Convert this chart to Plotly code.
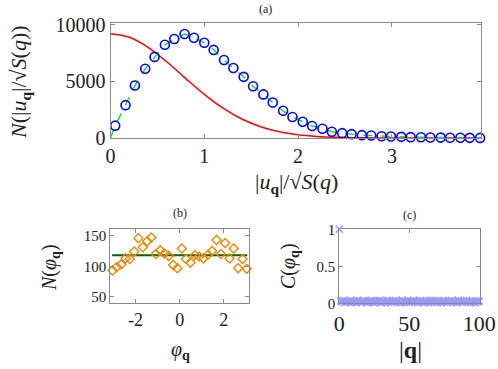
import plotly.graph_objects as go

# panel (a): histogram of |u_q|/sqrt(S(q))
hist_x = [0.05, 0.16, 0.26, 0.37, 0.47, 0.58, 0.68, 0.79, 0.89, 1.00,
          1.10, 1.21, 1.31, 1.42, 1.52, 1.63, 1.73, 1.84, 1.94, 2.05,
          2.15, 2.26, 2.36, 2.47, 2.57, 2.68, 2.78, 2.89, 2.99, 3.10,
          3.20, 3.31, 3.41, 3.52, 3.62, 3.73, 3.83, 3.94]
hist_n = [1090, 2900, 4630, 6110, 7160, 8230, 8740, 9180, 8850, 8410,
          7780, 6890, 6180, 5400, 4570, 3850, 3140, 2400, 1860, 1440,
          1060, 820, 550, 430, 340, 250, 220, 160, 130, 100,
          75, 60, 45, 35, 25, 20, 15, 10]
gauss_x = [0, 0.2, 0.4, 0.6, 0.8, 1.0, 1.2, 1.4, 1.6, 1.8, 2.0, 2.2, 2.4,
           2.6, 2.8, 3.0, 3.5, 3.95]
gauss_n = [9200, 8890, 8010, 6730, 5270, 3850, 2630, 1675, 995, 550, 284,
           137, 61, 26, 10, 4, 0, 0]

# panel (b): histogram of phase
phi_x = [-3.04, -2.85, -2.65, -2.45, -2.26, -2.06, -1.87, -1.67, -1.47, -1.28,
         -1.08, -0.88, -0.69, -0.49, -0.29, -0.10, 0.10, 0.29, 0.49, 0.69,
         0.88, 1.08, 1.28, 1.47, 1.67, 1.87, 2.06, 2.26, 2.45, 2.65, 2.85, 3.04]
phi_n = [93, 99, 103, 113, 112, 124, 146, 131, 141, 147,
         120, 126, 121, 117, 102, 97, 129, 112, 106, 118,
         116, 113, 119, 125, 143, 120, 138, 113, 129, 97, 112, 96]
phi_mean = 118
phi_span = [-3.06, 3.06]

# panel (c): phase correlation vs |q|
q_vals = list(range(0, 101))
corr = [1.0,
        0.03, 0.02, 0.04, 0.01, 0.02, 0.03, 0.02, 0.04, 0.01, 0.03,
        0.02, 0.01, 0.04, 0.02, 0.03, 0.01, 0.04, 0.03, 0.02, 0.01,
        0.03, 0.02, 0.04, 0.02, 0.01, 0.03, 0.02, 0.03, 0.04, 0.01,
        0.03, 0.02, 0.01, 0.04, 0.02, 0.03, 0.01, 0.03, 0.02, 0.04,
        0.02, 0.03, 0.01, 0.01, 0.04, 0.02, 0.03, 0.02, 0.04, 0.01,
        0.03, 0.02, 0.04, 0.02, 0.03, 0.01, 0.02, 0.04, 0.02, 0.03,
        0.01, 0.03, 0.02, 0.01, 0.04, 0.02, 0.04, 0.02, 0.03, 0.01,
        0.03, 0.02, 0.01, 0.04, 0.02, 0.03, 0.01, 0.03, 0.02, 0.04,
        0.02, 0.03, 0.02, 0.01, 0.04, 0.02, 0.03, 0.01, 0.03, 0.02,
        0.04, 0.02, 0.03, 0.01, 0.03, 0.02, 0.01, 0.03, 0.02, 0.03]

SERIF = 'Liberation Serif'
W, H = 498, 369

fig = go.Figure()

fig.add_trace(go.Scatter(x=gauss_x, y=gauss_n, mode='lines', line=dict(color='#ff0000', width=1.5, shape='spline'),
                         xaxis='x', yaxis='y', cliponaxis=False))
fig.add_trace(go.Scatter(x=[0] + hist_x, y=[0] + hist_n, mode='lines', line=dict(color='#22dd22', width=1.5, dash='dash'),
                         xaxis='x', yaxis='y', cliponaxis=False))
fig.add_trace(go.Scatter(x=hist_x, y=hist_n, mode='markers',
                         marker=dict(symbol='circle-open', size=9, color='#0000ff', line=dict(width=1.6)),
                         xaxis='x', yaxis='y', cliponaxis=False))

fig.add_trace(go.Scatter(x=phi_span, y=[phi_mean, phi_mean], mode='lines', line=dict(color='#006400', width=2),
                         xaxis='x2', yaxis='y2'))
fig.add_trace(go.Scatter(x=phi_x, y=phi_n, mode='markers',
                         marker=dict(symbol='diamond-open', size=7, color='#e8890c', line=dict(width=1.4)),
                         xaxis='x2', yaxis='y2', cliponaxis=False))

fig.add_trace(go.Scatter(x=q_vals, y=corr, mode='markers',
                         marker=dict(symbol='x-thin-open', size=7, color='#9999ff', line=dict(width=1.6, color='#9999ff')),
                         xaxis='x3', yaxis='y3', cliponaxis=False))


def ax(domain, rng, ticks, size, anchor):
    return dict(domain=domain, range=rng, tickvals=ticks, ticktext=[str(t) for t in ticks],
                showgrid=False, zeroline=False, automargin=False,
                showline=True, mirror='ticks', linecolor='#8a8a8a', linewidth=1,
                ticks='inside', ticklen=4, tickcolor='#8a8a8a', anchor=anchor,
                tickfont=dict(family=SERIF, size=size, color='#222'))


fig.update_layout(
    width=W, height=H,
    margin=dict(l=0, r=0, t=0, b=0),
    paper_bgcolor='white', plot_bgcolor='white',
    showlegend=False,
    font=dict(family=SERIF),
    xaxis=ax([110.5 / W, 481 / W], [0, 3.95], [0, 1, 2, 3], 20, 'y'),
    yaxis=ax([1 - 138 / H, 1 - 22.5 / H], [0, 10200], [0, 5000, 10000], 20, 'x'),
    xaxis2=ax([110.3 / W, 249 / W], [-3.1416, 3.1416], [-2, 0, 2], 18, 'y2'),
    yaxis2=ax([1 - 303.3 / H, 1 - 229.3 / H], [39.7, 160.4], [50, 100, 150], 15, 'x2'),
    xaxis3=ax([339.3 / W, 480.3 / W], [0, 100.7], [0, 50, 100], 22, 'y3'),
    yaxis3=ax([1 - 303.3 / H, 1 - 229.3 / H], [0, 1], [0, 0.5, 1], 15, 'x3'),
)


def note(text, x, y, size, angle=0):
    fig.add_annotation(text=text, x=x / W, y=1 - y / H, xref='paper', yref='paper',
                       showarrow=False, textangle=angle, xanchor='center', yanchor='middle',
                       font=dict(family=SERIF, size=size, color='#222'))


note('(a)', 265, 9, 12)
note('(b)', 180, 213, 12)
note('(c)', 409, 215, 12)

note('|<i>u</i><sub><b>q</b></sub>|/√<i>S</i>(<i>q</i>)', 296, 183, 22)
note('<i>N</i>(|<i>u</i><sub><b>q</b></sub>|/√<i>S</i>(<i>q</i>))', 20, 82, 22, -90)
note('<i>φ</i><sub><b>q</b></sub>', 180, 350, 20)
note('<i>N</i>(<i>φ</i><sub><b>q</b></sub>)', 50, 268, 20, -90)
note('|<b>q</b>|', 410, 350, 24)
note('<i>C</i>(<i>φ</i><sub><b>q</b></sub>)', 289, 266, 20, -90)

# the page body has a default margin; drop it so the figure sits at the corner
fig.write_html("out.html", config={'displayModeBar': False},
               post_script="document.body.style.margin='0px';")
